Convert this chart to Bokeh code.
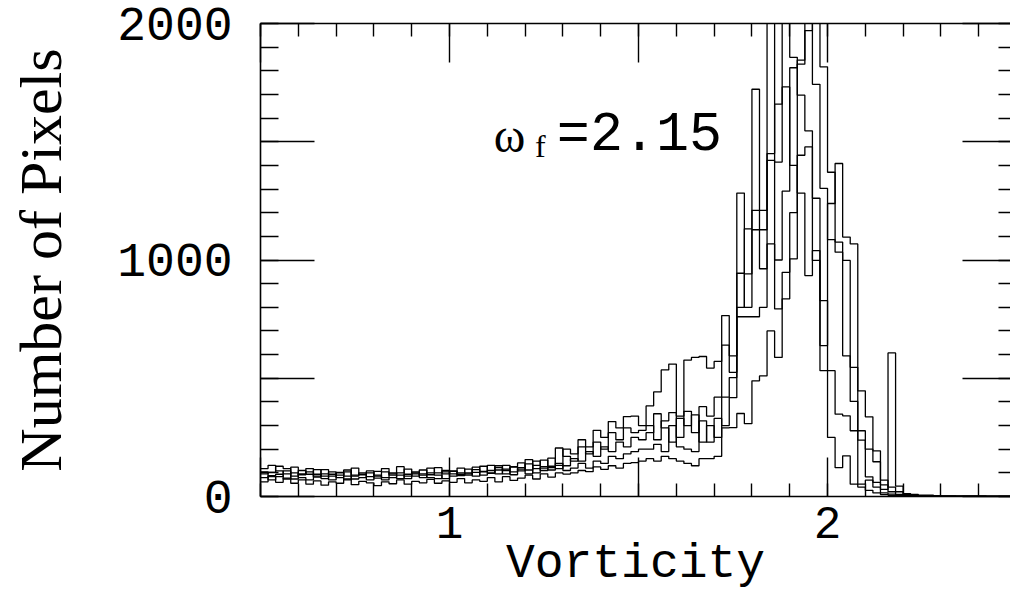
from bokeh.plotting import figure
from bokeh.models import Range1d, LinearAxis, FixedTicker, CustomJSTickFormatter, Label
from bokeh.embed import file_html
from bokeh.resources import INLINE

# ---- data -------------------------------------------------------------
BIN_START = 0.5
BIN_WIDTH = 0.02
N_BINS = 100
edges = [round(BIN_START + BIN_WIDTH * i, 4) for i in range(N_BINS + 1)]

s1 = [118,132,108,96,124,92,104,82,114,94,102,86,120,92,108,78,104,96,126,86,
      100,112,92,122,96,106,88,116,102,128,98,112,132,104,122,96,150,110,128,118,
      200,180,240,210,280,250,317,290,338,340,300,
      383,442,535,560,340,577,588,592,
      543,571,765,595,
      1283,800,1722,1210,2050,1414,1732,1400,1283,934,1040,532,250,122,172,52,
      40,26,15,8,5,2,1,0,0,0,0,0,0,0,0,0,0,0,0,0,0]
s2 = [96,102,128,118,86,110,94,114,86,104,80,112,90,100,84,106,118,90,100,116,
      86,96,120,100,110,86,120,96,114,106,132,96,116,124,108,138,118,126,112,205,
      170,150,210,180,230,200,270,240,290,270,280,
      300,240,320,355,250,360,270,380,
      340,420,640,525,
      944,1132,1210,963,1450,1659,2100,1857,1697,1546,1261,828,532,348,341,278,
      238,83,40,15,10,5,2,1,0,0,0,0,0,0,0,0,0,0,0,0,0]
s3 = [80,88,94,74,100,80,70,94,76,86,100,70,86,94,70,90,80,100,76,94,
      104,80,100,90,76,108,94,100,86,104,110,122,96,126,142,112,132,154,122,140,
      130,160,150,190,170,210,190,230,210,250,240,
      270,350,290,230,330,300,345,230,
      300,250,420,503,
      800,941,1128,1128,1421,1000,1291,1813,1845,2100,1743,1303,1086,1033,595,402,
      278,200,147,49,20,9,4,3,2,1,1,0,0,0,0,0,0,0,0,0,0]
s4 = [104,70,84,108,74,96,118,86,96,70,90,104,74,80,100,86,70,80,90,76,
      96,90,80,76,104,96,100,90,124,90,100,130,110,92,116,156,100,120,162,132,
      110,120,140,120,150,140,170,160,180,190,200,
      200,220,190,300,210,200,190,320,
      230,330,300,418,
      760,760,760,800,1068,793,948,1200,1828,1970,2100,1817,1371,1076,998,546,
      447,337,193,69,40,20,8,5,4,3,3,2,2,1,1,1,1,0,0,0,0]
s5 = [62,84,60,78,56,70,52,66,48,62,56,74,50,64,58,46,62,54,70,52,
      64,58,72,56,66,60,76,58,70,64,80,62,84,68,78,90,74,96,82,100,
      95,100,110,105,125,115,130,120,140,143,150,
      160,150,170,160,150,140,130,160,
      160,170,290,291,
      351,308,489,510,700,588,836,1005,1443,1478,998,638,1239,1408,1097,1068,
      52,69,60,30,607,44,12,9,6,6,4,3,3,2,2,2,2,0,0,0,0]
series = [s1, s2, s3, s4, s5]

x_major = [0.5, 1.0, 1.5, 2.0, 2.5]
x_minor = [round(0.5 + 0.1 * k, 2) for k in range(21)]
y_major = [0, 500, 1000, 1500, 2000]
y_minor = list(range(0, 2001, 100))

annot_x = 1.117
annot_y = 1527

# ---- figure -----------------------------------------------------------
p = figure(width=1010, height=598, x_range=Range1d(0.5, 2.484), y_range=Range1d(0, 2000),
           output_backend="svg", toolbar_location=None,
           x_axis_location=None, y_axis_location=None,
           min_border_left=260, min_border_right=0, min_border_top=23, min_border_bottom=102)
p.outline_line_color = None
p.grid.visible = False
p.background_fill_color = "white"
p.border_fill_color = "white"

for s in series:
    p.step(x=edges, y=s + [s[-1]], mode="after", line_color="black", line_width=1.3)

xt = FixedTicker(ticks=x_major, minor_ticks=x_minor)
yt = FixedTicker(ticks=y_major, minor_ticks=y_minor)
blank = CustomJSTickFormatter(code="return '';")

def style(ax, maj, mnr):
    ax.major_tick_in = maj
    ax.major_tick_out = 0
    ax.minor_tick_in = mnr
    ax.minor_tick_out = 0
    ax.axis_line_width = 1.6
    ax.major_tick_line_width = 1.4
    ax.minor_tick_line_width = 1.4
    ax.axis_line_color = "black"
    ax.major_tick_line_color = "black"
    ax.minor_tick_line_color = "black"

bottom = LinearAxis(ticker=xt,
                    formatter=CustomJSTickFormatter(code="return (tick == 1 || tick == 2) ? tick.toFixed(0) : '';"),
                    axis_label="Vorticity")
style(bottom, 39, 13)
bottom.major_label_text_font = "Liberation Mono"
bottom.major_label_text_font_size = "46px"
bottom.major_label_text_color = "black"
bottom.major_label_standoff = 10
bottom.axis_label_text_font = "Liberation Mono"
bottom.axis_label_text_font_size = "48px"
bottom.axis_label_text_font_style = "normal"
bottom.axis_label_text_color = "black"
bottom.axis_label_standoff = -4
p.add_layout(bottom, "below")

top = LinearAxis(ticker=xt, formatter=blank)
style(top, 39, 13)
top.major_label_text_font_size = "0px"
top.major_label_standoff = 0
p.add_layout(top, "above")

left = LinearAxis(ticker=yt,
                  formatter=CustomJSTickFormatter(code="return (tick % 1000 == 0) ? tick.toFixed(0) : '';"),
                  axis_label="Number of Pixels")
style(left, 54, 18)
left.major_label_text_font = "Liberation Mono"
left.major_label_text_font_size = "48px"
left.major_label_text_color = "black"
left.major_label_standoff = 28
left.axis_label_text_font = "Liberation Serif"
left.axis_label_text_font_size = "60px"
left.axis_label_text_font_style = "normal"
left.axis_label_text_color = "black"
left.axis_label_standoff = 40
p.add_layout(left, "left")

right = LinearAxis(ticker=yt, formatter=blank)
style(right, 48, 12)
right.axis_line_color = None
right.major_label_text_font_size = "0px"
right.major_label_standoff = 0
p.add_layout(right, "right")

p.add_layout(Label(x=annot_x, y=annot_y, text="ω", text_font="Liberation Serif",
                   text_font_size="48px", text_color="black", text_baseline="alphabetic"))
p.add_layout(Label(x=1.226, y=1480, text="f", text_font="Liberation Serif",
                   text_font_size="32px", text_color="black", text_baseline="alphabetic"))
p.add_layout(Label(x=1.284, y=annot_y, text="=2.15", text_font="Liberation Mono",
                   text_font_size="55px", text_color="black", text_baseline="alphabetic"))

open("out.html", "w").write(file_html(p, INLINE))
